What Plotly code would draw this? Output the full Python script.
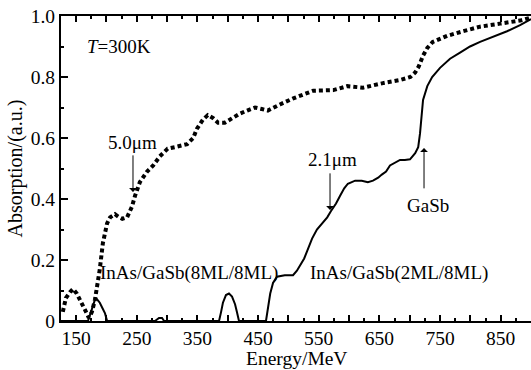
import plotly.graph_objects as go

# ---- data (Energy in MeV, absorption in a.u.) ----
x_8ml = [128, 133, 140, 145, 151, 158, 165, 171, 176, 181, 186, 189, 194, 201, 206,
         214, 221, 226, 234, 242, 247, 255, 267, 277, 288, 301, 313, 325, 333, 343,
         349, 359, 367, 376, 384, 395, 407, 420, 432, 445, 456, 466, 486, 508, 541,
         574, 597, 623, 656, 684, 701, 709, 715, 722, 729, 738, 750, 762, 788, 816,
         849, 882, 900]
y_8ml = [0.03, 0.075, 0.095, 0.105, 0.09, 0.065, 0.035, 0.01, 0.03, 0.07, 0.13, 0.17,
         0.255, 0.32, 0.34, 0.35, 0.34, 0.335, 0.34, 0.375, 0.41, 0.455, 0.49, 0.51,
         0.54, 0.565, 0.57, 0.575, 0.58, 0.60, 0.63, 0.66, 0.675, 0.665, 0.65, 0.65,
         0.665, 0.68, 0.69, 0.70, 0.695, 0.69, 0.71, 0.73, 0.755, 0.757, 0.77, 0.765,
         0.78, 0.79, 0.80, 0.815, 0.835, 0.87, 0.895, 0.915, 0.925, 0.935, 0.95,
         0.965, 0.975, 0.985, 0.995]

x_2ml = [125, 169.5, 174.5, 181, 184, 189, 192.6, 197.6, 201, 280, 286.6, 291.6, 295,
         385.6, 389, 392, 397, 402, 407, 412, 415, 418.5, 463, 466, 470, 474.6, 481,
         494, 507.6, 514, 519, 526, 531, 539, 547, 555, 564, 570, 578.5, 585, 592,
         598, 610, 621, 631, 639.5, 648, 654, 661, 667.5, 676, 684, 692, 700.5, 709,
         714, 717, 722, 729, 737, 750, 766.5, 783, 799.5, 816, 841, 860.5, 882, 900]
y_2ml = [0, 0, 0.03, 0.07, 0.072, 0.06, 0.045, 0.025, 0, 0, 0.01, 0.01, 0,
         0, 0.03, 0.06, 0.085, 0.09, 0.08, 0.055, 0.03, 0, 0, 0.045, 0.09, 0.125, 0.145,
         0.15, 0.15, 0.165, 0.18, 0.205, 0.23, 0.27, 0.30, 0.32, 0.34, 0.36, 0.385,
         0.41, 0.435, 0.45, 0.46, 0.46, 0.455, 0.46, 0.47, 0.48, 0.49, 0.51, 0.52,
         0.528, 0.528, 0.53, 0.55, 0.57, 0.615, 0.725, 0.77, 0.80, 0.83, 0.86, 0.88,
         0.90, 0.915, 0.935, 0.95, 0.97, 0.99]

x_tickvals = [150, 200, 250, 300, 350, 400, 450, 500, 550, 600, 650, 700, 750, 800, 850, 900]
x_ticktext = ["150", "", "250", "", "350", "", "450", "", "550", "", "650", "", "750", "", "850", ""]
y_tickvals = [0, 0.2, 0.4, 0.6, 0.8, 1.0]
y_ticktext = ["0", "0.2", "0.4", "0.6", "0.8", "1.0"]

FONT = "'Liberation Serif', 'Times New Roman', Times, serif"

fig = go.Figure()
fig.add_trace(go.Scatter(x=x_8ml, y=y_8ml, mode="lines",
                         line=dict(color="black", width=4, dash="4px,3px"),
                         showlegend=False, hoverinfo="skip"))
fig.add_trace(go.Scatter(x=x_2ml, y=y_2ml, mode="lines",
                         line=dict(color="black", width=2),
                         showlegend=False, hoverinfo="skip"))

tickfont = dict(family=FONT, size=19.5, color="black")
fig.update_layout(
    width=531, height=370,
    margin=dict(l=61, r=0, t=16, b=49),
    paper_bgcolor="white", plot_bgcolor="white",
    font=dict(family=FONT, color="black", size=19),
    xaxis=dict(range=[125, 900], tickmode="array", tickvals=x_tickvals, ticktext=x_ticktext,
               ticks="inside", ticklen=6, tickwidth=1.5, tickcolor="black",
               showline=True, linewidth=2, linecolor="black", mirror="ticks",
               showgrid=False, zeroline=False, tickfont=tickfont, ticklabelstandoff=-1,
               minor=dict(dtick=25, tick0=0, ticks="inside", ticklen=3, tickwidth=1.5,
                          tickcolor="black", showgrid=False)),
    yaxis=dict(range=[0, 1], tickmode="array", tickvals=y_tickvals, ticktext=y_ticktext,
               ticks="inside", ticklen=7, tickwidth=1.5, tickcolor="black",
               showline=True, linewidth=2, linecolor="black", mirror=False,
               showgrid=False, zeroline=False, tickfont=tickfont,
               minor=dict(dtick=0.1, tick0=0, ticks="inside", ticklen=3, tickwidth=1.5,
                          tickcolor="black", showgrid=False),
               title=dict(text="Absorption/(a.u.)", font=dict(family=FONT, size=20), standoff=3)),
)

# x-axis title as a paper-anchored text (keeps clear of the tick labels)
fig.add_annotation(text="Energy/MeV", x=0.5, y=-0.123, xref="paper", yref="paper",
                   xanchor="center", yanchor="middle", showarrow=False,
                   font=dict(family=FONT, size=19.5, color="black"))

ann_font = dict(family=FONT, size=19, color="black")
texts = [
    ("<i>T</i>=300K", 220, 0.90),
    ("5.0μm", 243.7, 0.584),
    ("2.1μm", 573.5, 0.528),
    ("GaSb", 730, 0.38),
    ("InAs/GaSb(8ML/8ML)", 336, 0.157),
    ("InAs/GaSb(2ML/8ML)", 682.4, 0.157),
]
for t, xx, yy in texts:
    fig.add_annotation(text=t, x=xx, y=yy, xref="x", yref="y", showarrow=False, font=ann_font)

arrows = [(243.7, 0.548, 0.423), (568.6, 0.489, 0.364), (723.6, 0.43, 0.567)]
for xx, y0, y1 in arrows:
    fig.add_annotation(text="", x=xx, y=y1, ax=xx, ay=y0, xref="x", yref="y",
                       axref="x", ayref="y", showarrow=True, arrowhead=1,
                       arrowsize=1.3, arrowwidth=1, arrowcolor="black", standoff=0)

fig.write_html("out.html")
